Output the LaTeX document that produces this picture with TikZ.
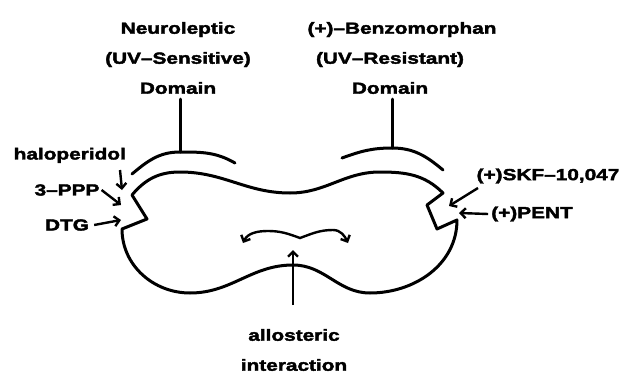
\documentclass[tikz,border=0pt]{standalone}
\usepackage{fontspec}
\setmainfont{Liberation Sans}[FakeStretch=1.3, BoldFeatures={FakeBold=2.5}]
\usetikzlibrary{arrows.meta}
\newcommand{\lblfont}{\fontsize{16}{30}\selectfont\bfseries}
\tikzset{
  outline/.style={line width=3pt, line join=round, line cap=round},
  lbl/.style={inner sep=0pt, font=\lblfont, align=center},
  ptr/.style={line width=2.4pt, ->},
}
\begin{document}
\begin{tikzpicture}[x=1pt, y=-1pt, >={Straight Barb[length=5pt,width=10pt,line width=2.4pt]}]
  \useasboundingbox (0,0) rectangle (625,375);

  % --- 1. domain labels ---
  \node[lbl] (neuro) at (178,58) {Neuroleptic\\(UV--Sensitive)\\Domain};
  \node[lbl] (benzo) at (390,58) {\hspace*{24pt}(+)--Benzomorphan\\(UV--Resistant)\\Domain};

  % --- 2. brackets over the two lobes ---
  \coordinate (neurotop) at (180,152);
  \coordinate (benzotop) at (392,148);
  \draw[outline] (132,174) to[out=40,in=180] (neurotop) to[out=0,in=150] (235,163);
  \draw[outline] (342,158) to[out=20,in=180] (benzotop) to[out=0,in=140] (443,170);
  \draw[outline] (neuro.south -| neurotop) ++(0,5) -- (neurotop);
  \draw[outline] (benzo.south -| benzotop) ++(0,5) -- (benzotop);

  % --- 3. receptor body with the two notches ---
  \draw[outline] (132,195) to[out=50,in=180] (180,172) to[out=0,in=180] (290,193)
    to[out=0,in=180] (380,172) to[out=0,in=135] (443,193)
    -- (427,205) -- (437,229) -- (457,220)
    to[out=-90,in=0] (370,293) to[out=180,in=0] (293,265)
    to[out=180,in=0] (190,293) to[out=180,in=-90] (122,229)
    -- (147,219) -- cycle;

  % --- 4. ligands on the left ---
  \node[lbl, anchor=south east] (halo) at (126,163) {haloperidol};
  \node[lbl] (ppp) at (67,190) {3--PPP};
  \node[lbl] (dtg) at (67,225) {DTG};
  \coordinate (halotip) at (122,190);
  \coordinate (ppptip) at (121,205);
  \coordinate (dtgtip) at (121,220);
  \draw[ptr] (120,170) -- (halotip);
  \draw[ptr] ([xshift=2pt]ppp.east) -- (ppptip);
  \draw[ptr] ([xshift=5pt]dtg.east) -- (dtgtip);

  % --- 5. ligands on the right ---
  \node[lbl] (skf) at (548,176) {(+)SKF--10,047};
  \node[lbl] (pent) at (532,214) {(+)PENT};
  \coordinate (skftip) at (449,206);
  \coordinate (penttip) at (459,213);
  \draw[ptr] (478,188) -- (skftip);
  \draw[ptr] ([xshift=-3pt]pent.west) -- (penttip);

  % --- 6. allosteric interaction ---
  \node[lbl] (allo) at (294,350) {allosteric\\interaction};
  \coordinate (alloL) at (243,243);
  \coordinate (alloR) at (348,243);
  \draw[line width=2.4pt, <->] (alloL) to[out=65,in=180] (268,231) to[out=0,in=160] (300,238)
    to[out=20,in=180] (333,230) to[out=0,in=115] (alloR);
  \coordinate (allotip) at (293,250);
  \draw[ptr] (293,305) -- (allotip);

\end{tikzpicture}
\end{document}
